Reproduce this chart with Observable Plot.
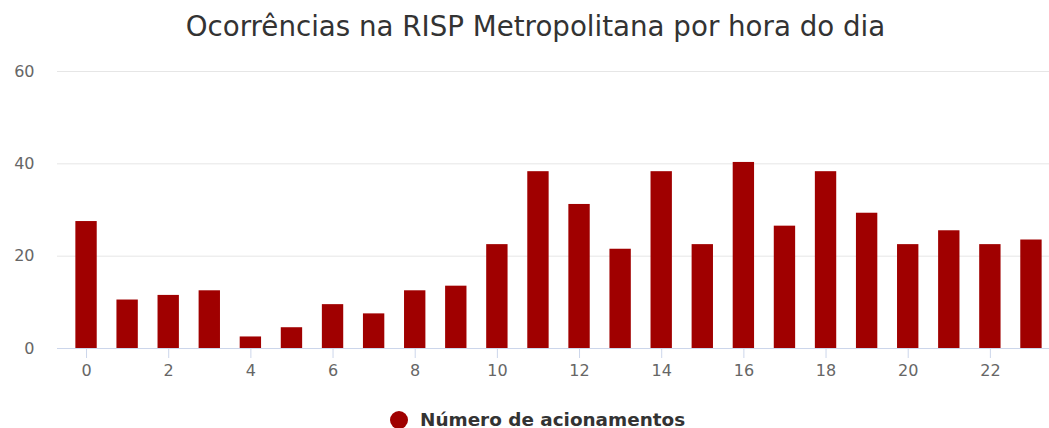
<!DOCTYPE html>
<html>
<head>
<meta charset="utf-8">
<script src="https://cdn.jsdelivr.net/npm/d3@7"></script>
<script src="https://cdn.jsdelivr.net/npm/@observablehq/plot@0.6"></script>
<style>
  html, body { margin: 0; padding: 0; background: #fff; overflow: hidden; }
  body { width: 1049px; height: 428px; font-family: "DejaVu Sans", sans-serif; }
  #title { height: 54px; line-height: 54px; font-size: 27.7px; color: #333; text-align: center; padding-left: 22px; box-sizing: border-box; white-space: nowrap; }
  #legend { height: 34px; position: relative; }
  #legend .dot { position: absolute; left: 390px; top: 17px; width: 18px; height: 18px; border-radius: 50%; background: #a00000; }
  #legend .lab { position: absolute; left: 420px; top: 14px; font-size: 18.4px; font-weight: bold; color: #333; line-height: 24px; white-space: nowrap; }
</style>
</head>
<body>
<div id="title">Ocorrências na RISP Metropolitana por hora do dia</div>
<div id="chart"></div>
<div id="legend"><span class="dot"></span><span class="lab">Número de acionamentos</span></div>
<script>
const hours = [0,1,2,3,4,5,6,7,8,9,10,11,12,13,14,15,16,17,18,19,20,21,22,23];
const acionamentos = [27.5,10.5,11.5,12.5,2.5,4.5,9.5,7.5,12.5,13.5,22.5,38.3,31.2,21.5,38.3,22.5,40.3,26.5,38.3,29.3,22.5,25.5,22.5,23.5];
const xTicks = [0,2,4,6,8,10,12,14,16,18,20,22];
const yTicks = [0,20,40,60];
const seriesName = "Número de acionamentos";

const data = hours.map((h, i) => ({hora: h, valor: acionamentos[i]}));

const chart = Plot.plot({
  width: 1049,
  height: 340,
  marginLeft: 57,
  marginRight: 0,
  marginTop: 17,
  marginBottom: 46,
  style: {fontFamily: "DejaVu Sans, sans-serif", fontSize: "16px", color: "#666", background: "#fff"},
  x: {type: "band", domain: hours, range: [65.5, 1051.5], paddingInner: 0.48, paddingOuter: 0.24, align: 0.5, round: false},
  y: {domain: [0, 60]},
  marks: [
    Plot.gridY(yTicks.filter(d => d > 0), {stroke: "#e6e6e6", strokeOpacity: 1, strokeWidth: 1}),
    Plot.barY(data, {x: "hora", y: "valor", fill: "#a00000"}),
    Plot.ruleY([0], {stroke: "#ccd6eb", strokeWidth: 1}),
    Plot.axisX({ticks: xTicks, tickSize: 10, tickPadding: 6, stroke: "#ccd6eb", fill: "#666", fontSize: 16, label: null}),
    Plot.axisY({ticks: yTicks, tickSize: 0, tickPadding: 23, fill: "#666", fontSize: 16, label: null})
  ]
});
document.getElementById("chart").appendChild(chart);
</script>
</body>
</html>
